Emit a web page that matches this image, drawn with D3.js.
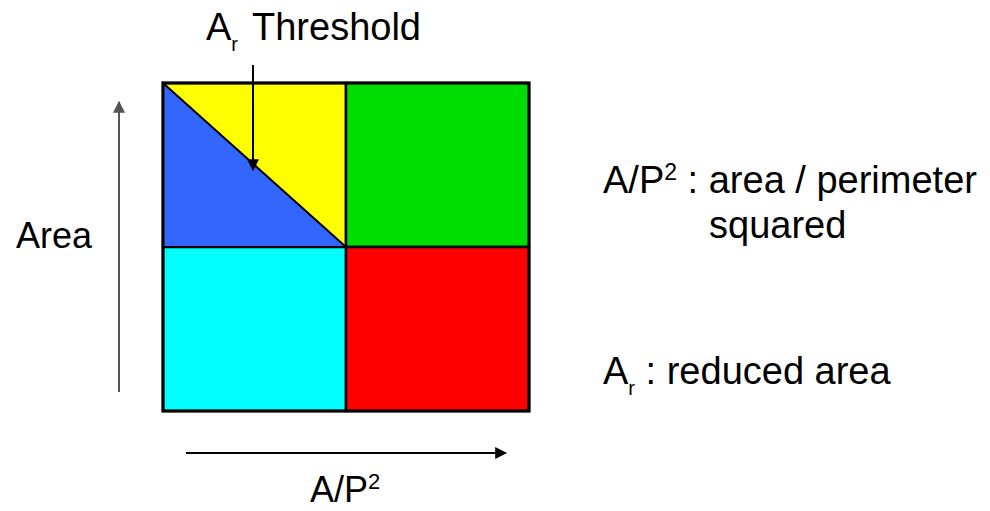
<!DOCTYPE html>
<html>
<head>
<meta charset="utf-8">
<script src="https://cdn.jsdelivr.net/npm/d3@7"></script>
<style>
  body { margin: 0; background: #fff; }
  text { font-family: "Liberation Sans", Arial, sans-serif; fill: #000; }
</style>
</head>
<body>
<script>
// quadrant diagram data
const apLevels = ['low', 'high'];        // A/P^2 (x)
const areaLevels = ['high', 'low'];      // Area (y), high on top
const cells = [
  { ap: 'low',  area: 'high', color: '#ffff00' },
  { ap: 'high', area: 'high', color: '#00dd00' },
  { ap: 'low',  area: 'low',  color: '#00ffff' },
  { ap: 'high', area: 'low',  color: '#ff0000' }
];
// reduced-area triangle inside the low A/P^2, high area cell (unit coords)
const triangle = [[0, 0], [1, 1], [0, 1]];
const triColor = '#3366ff';

const w = 990, h = 511;
const svg = d3.select('body').append('svg').attr('width', w).attr('height', h);

const x = d3.scaleBand().domain(apLevels).range([163, 529]);
const y = d3.scaleBand().domain(areaLevels).range([83, 411]);

svg.append('defs').selectAll('marker')
  .data([['arrBlack', '#000'], ['arrGrey', '#555']])
  .enter().append('marker')
  .attr('id', d => d[0])
  .attr('viewBox', '0 0 10 10')
  .attr('refX', 9).attr('refY', 5)
  .attr('markerWidth', 6).attr('markerHeight', 6)
  .attr('markerUnits', 'strokeWidth')
  .attr('orient', 'auto')
  .append('path').attr('d', 'M0,0L10,5L0,10z').attr('fill', d => d[1]);

svg.selectAll('rect.cell')
  .data(cells).enter().append('rect')
  .attr('class', 'cell')
  .attr('x', d => x(d.ap))
  .attr('y', d => y(d.area))
  .attr('width', x.bandwidth())
  .attr('height', y.bandwidth())
  .attr('fill', d => d.color)
  .attr('stroke', '#000')
  .attr('stroke-width', 2.5);

// triangle in the top-left cell
const tx = d3.scaleLinear().domain([0, 1]).range([x('low'), x('low') + x.bandwidth()]);
const ty = d3.scaleLinear().domain([0, 1]).range([y('high'), y('high') + y.bandwidth()]);
svg.append('path')
  .attr('d', d3.line().x(d => tx(d[0])).y(d => ty(d[1]))(triangle) + 'Z')
  .attr('fill', triColor)
  .attr('stroke', '#000')
  .attr('stroke-width', 2);

// outer border on top
svg.append('rect')
  .attr('x', x.range()[0]).attr('y', y.range()[0])
  .attr('width', x.range()[1] - x.range()[0])
  .attr('height', y.range()[1] - y.range()[0])
  .attr('fill', 'none').attr('stroke', '#000').attr('stroke-width', 3);

// arrows
svg.append('line')
  .attr('x1', 119).attr('y1', 392).attr('x2', 119).attr('y2', 102)
  .attr('stroke', '#555').attr('stroke-width', 2)
  .attr('marker-end', 'url(#arrGrey)');

svg.append('line')
  .attr('x1', 186).attr('y1', 453).attr('x2', 506).attr('y2', 453)
  .attr('stroke', '#000').attr('stroke-width', 2)
  .attr('marker-end', 'url(#arrBlack)');

svg.append('line')
  .attr('x1', 253).attr('y1', 65).attr('x2', 253).attr('y2', 170)
  .attr('stroke', '#000').attr('stroke-width', 2)
  .attr('marker-end', 'url(#arrBlack)');

// labels
const fs = 38;

const thr = svg.append('text').attr('x', 206).attr('y', 40).attr('font-size', fs);
thr.append('tspan').text('A');
thr.append('tspan').attr('font-size', 20).attr('dy', 11).text('r');
thr.append('tspan').attr('x', 252).attr('dy', -11).text('Threshold');

svg.append('text').attr('x', 16).attr('y', 248).attr('font-size', 36).text('Area');

const bx = svg.append('text').attr('x', 310).attr('y', 502).attr('font-size', 36);
bx.append('tspan').text('A/P');
bx.append('tspan').attr('font-size', 22).attr('dy', -13).text('2');

const l1 = svg.append('text').attr('x', 603).attr('y', 193).attr('font-size', fs);
l1.append('tspan').text('A/P');
l1.append('tspan').attr('font-size', 23).attr('dy', -13).text('2');
l1.append('tspan').attr('dy', 13).text(' : area / perimeter');

svg.append('text').attr('x', 709).attr('y', 238).attr('font-size', fs).text('squared');

const l2 = svg.append('text').attr('x', 603).attr('y', 384).attr('font-size', fs);
l2.append('tspan').text('A');
l2.append('tspan').attr('font-size', 20).attr('dy', 11).text('r');
l2.append('tspan').attr('dy', -11).text(' : reduced area');
</script>
</body>
</html>
